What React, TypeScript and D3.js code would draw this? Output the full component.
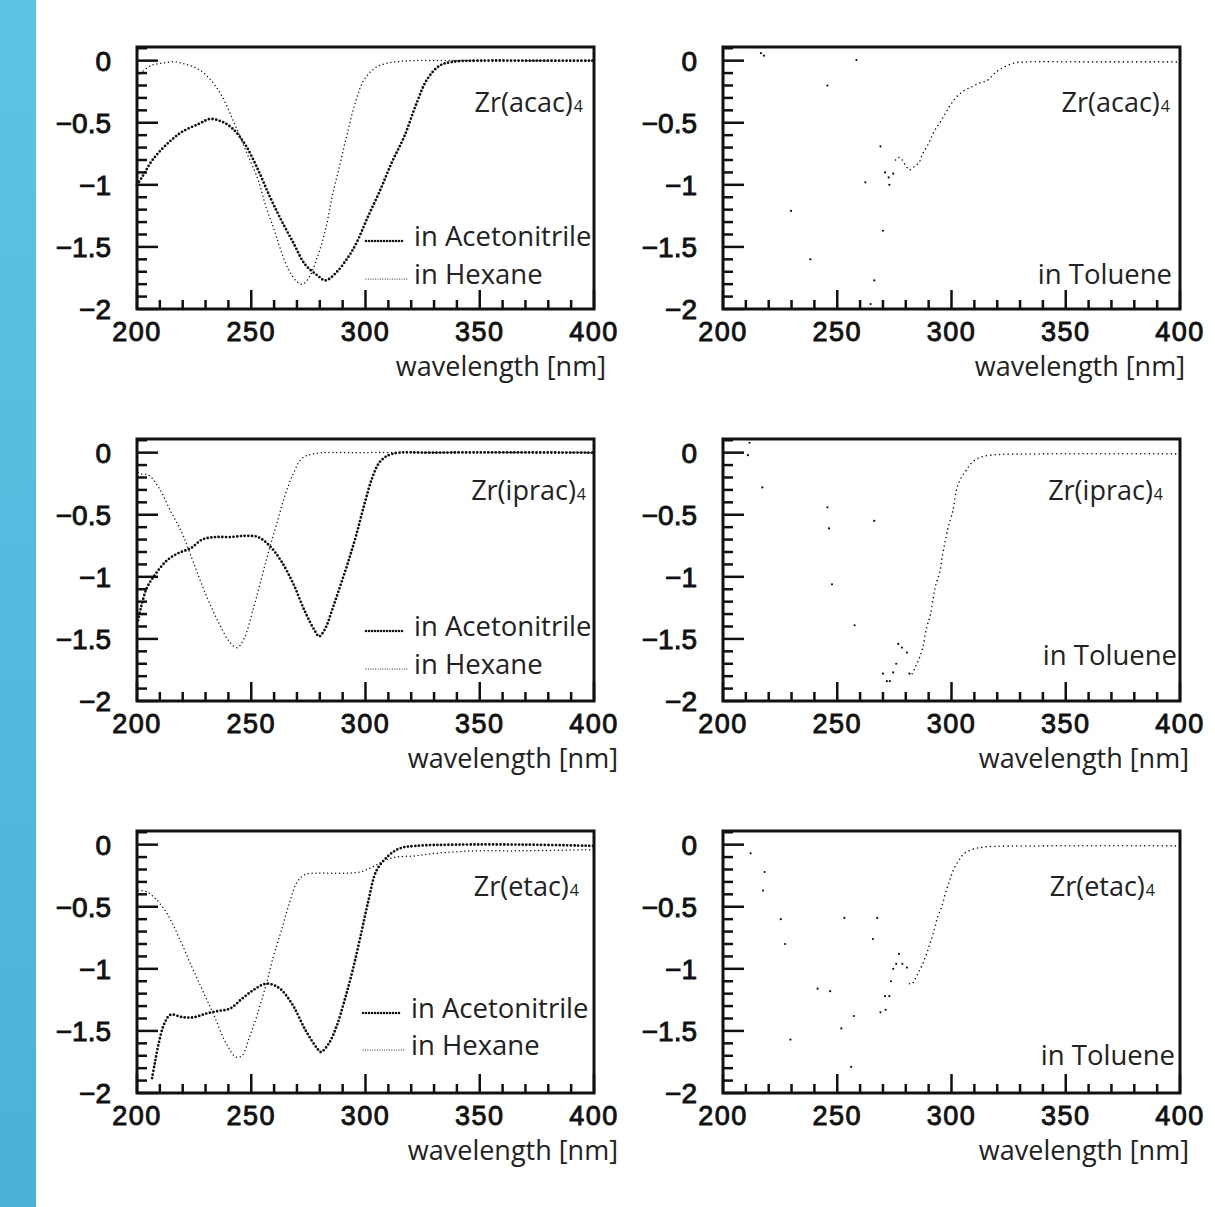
import React, { useEffect, useRef } from "react";
import * as d3 from "d3";

type Pt = [number, number];

// [wavelength nm, value]
const acacAcetonitrile: Pt[] = [
  [200, -1.0], [202.5, -0.93], [206, -0.82], [209.5, -0.74], [215, -0.64], [220, -0.57],
  [227, -0.51], [232, -0.47], [237, -0.49], [242, -0.55], [247.5, -0.68], [253, -0.88],
  [258, -1.09], [263, -1.28], [268.5, -1.47], [273.5, -1.64], [279, -1.73], [282.5, -1.77],
  [287.5, -1.7], [292.5, -1.58], [296, -1.47], [301, -1.26], [306.5, -1.04], [311.5, -0.82],
  [317, -0.61], [322, -0.36], [327, -0.15], [332.5, -0.04], [338, -0.01], [350, 0], [375, 0], [400, 0],
];
const acacHexane: Pt[] = [
  [200, -0.12], [201, -0.11], [206, -0.04], [211, -0.02], [216.5, -0.01], [221.5, -0.03],
  [227, -0.07], [232, -0.15], [237, -0.28], [242.5, -0.5], [247.5, -0.72], [253, -0.96],
  [256.5, -1.18], [260, -1.36], [263, -1.53], [266.5, -1.69], [270, -1.78], [272.5, -1.8],
  [275.5, -1.74], [279, -1.58], [282.5, -1.36], [285.5, -1.09], [289, -0.82], [292.5, -0.55],
  [296, -0.31], [299.5, -0.15], [305, -0.05], [313, -0.01], [322, 0], [360, 0], [400, 0],
];
const ipracAcetonitrile: Pt[] = [
  [200.5, -1.35], [201.7, -1.25], [204.3, -1.09], [208, -0.98], [213, -0.87], [218, -0.81],
  [223.5, -0.77], [228.5, -0.7], [234, -0.68], [240.5, -0.68], [247.5, -0.67], [253, -0.68],
  [258, -0.75], [263, -0.87], [268.5, -1.06], [273.5, -1.28], [278, -1.44], [279.7, -1.48],
  [282.3, -1.42], [285.7, -1.25], [289.2, -1.06], [292.6, -0.87], [296, -0.66], [299.6, -0.41],
  [303, -0.2], [306.5, -0.07], [311.7, -0.01], [330, 0], [400, 0],
];
const ipracHexane: Pt[] = [
  [200.5, -0.16], [201.7, -0.17], [205, -0.18], [209.5, -0.28], [214.7, -0.47], [220, -0.66],
  [225, -0.9], [230.3, -1.15], [235.5, -1.36], [240.7, -1.53], [243.8, -1.57], [246.8, -1.5],
  [251, -1.25], [254.5, -1.01], [258, -0.77], [261.5, -0.55], [265, -0.33], [268.4, -0.17],
  [272, -0.05], [277, -0.01], [300, 0], [400, 0],
];
const etacAcetonitrile: Pt[] = [
  [206.6, -1.88], [207.8, -1.76], [209.5, -1.6], [212, -1.44], [214.7, -1.37], [220, -1.39],
  [225, -1.39], [230.3, -1.36], [235.5, -1.34], [240.7, -1.32], [246, -1.24], [251, -1.17],
  [256.3, -1.12], [259.7, -1.13], [263.2, -1.17], [268.4, -1.3], [273.6, -1.49], [278.8, -1.64],
  [280.5, -1.67], [284, -1.6], [287.4, -1.46], [290.9, -1.25], [294.4, -1.01], [297.8, -0.74],
  [301.3, -0.45], [304.8, -0.21], [310, -0.09], [315, -0.03], [322, -0.01], [340, 0], [370, 0], [400, -0.01],
];
const etacHexane: Pt[] = [
  [200.5, -0.37], [204.3, -0.38], [207.8, -0.43], [213, -0.55], [218.2, -0.74], [223.4, -0.96],
  [228.6, -1.17], [233.8, -1.38], [239, -1.6], [243.3, -1.71], [245.9, -1.7], [249.4, -1.54],
  [252.8, -1.36], [256.3, -1.14], [259.7, -0.9], [263.2, -0.69], [266.7, -0.47], [270.1, -0.3],
  [273.6, -0.24], [278.8, -0.23], [285.7, -0.23], [292.6, -0.23], [297.8, -0.22], [303, -0.18],
  [308.2, -0.13], [313.4, -0.1], [322, -0.09], [330.7, -0.07], [348, -0.05], [365, -0.05], [400, -0.04],
];

// toluene: the connected part of the spectrum and the stray points below 280 nm
const acacToluene: Pt[] = [
  [275.5, -0.8], [276.7, -0.78], [278, -0.79], [279.1, -0.82], [280.5, -0.86], [281.6, -0.88],
  [283.3, -0.86], [285.8, -0.82], [287.4, -0.75], [289.9, -0.67], [292.4, -0.57], [294.9, -0.5],
  [297.4, -0.42], [299.8, -0.35], [302.3, -0.29], [305.6, -0.24], [308.9, -0.21], [312.3, -0.18],
  [315.6, -0.16], [318.9, -0.1], [322.2, -0.06], [327.2, -0.02], [333.8, -0.01], [360, -0.01], [400, -0.01],
];
const acacTolueneStray: Pt[] = [
  [216.6, 0.06], [217.9, 0.04], [229.8, -1.21], [238.2, -1.6], [245.7, -0.2], [258.4, 0.005],
  [262.3, -0.98], [264.6, -1.96], [266.2, -1.77], [268.9, -0.69], [270, -1.37], [270.9, -0.9],
  [272.5, -0.94], [272.8, -1.0], [274.5, -0.91],
];
const ipracToluene: Pt[] = [
  [282.8, -1.78], [284.1, -1.73], [285.8, -1.66], [287.4, -1.57], [289.1, -1.41], [290.7, -1.31],
  [292.1, -1.16], [293.2, -1.06], [294.9, -0.96], [296.1, -0.82], [297.4, -0.7], [298.7, -0.59],
  [300.3, -0.49], [301, -0.43], [302.3, -0.29], [304, -0.21], [306.5, -0.14], [308.9, -0.08],
  [312.3, -0.04], [317.2, -0.02], [340, -0.01], [400, -0.01],
];
const ipracTolueneStray: Pt[] = [
  [211.6, 0.08], [210.9, -0.02], [217.2, -0.28], [245.7, -0.44], [246.4, -0.61], [247.7, -1.06],
  [257.6, -1.39], [266.2, -0.55], [270, -1.78], [271.7, -1.84], [273, -1.84], [274.5, -1.77],
  [275.8, -1.7], [276.7, -1.54], [278.3, -1.57], [280.5, -1.61], [281.6, -1.78],
];
const etacToluene: Pt[] = [
  [281.6, -1.12], [282.8, -1.12], [284.1, -1.08], [285.8, -1.02], [287.4, -0.96], [289.1, -0.88],
  [290.7, -0.79], [292.4, -0.69], [294, -0.58], [295.7, -0.5], [297.4, -0.39], [299, -0.3],
  [300.7, -0.21], [303.1, -0.13], [305.6, -0.07], [308.9, -0.04], [313.9, -0.02], [340, -0.01], [400, -0.01],
];
const etacTolueneStray: Pt[] = [
  [212.1, -0.07], [217.5, -0.37], [218.2, -0.22], [225.3, -0.6], [227.2, -0.8], [229.5, -1.57],
  [241.4, -1.16], [246.9, -1.18], [251.8, -1.48], [253.1, -0.59], [256.1, -1.79], [257.3, -1.38],
  [265.6, -0.76], [267.5, -0.59], [268.9, -1.35], [270.9, -1.22], [271.2, -1.33], [272.8, -1.22],
  [273.5, -1.1], [274.5, -1.0], [275.8, -0.96], [277, -0.88], [278.5, -0.96], [280.5, -0.99],
];

const compounds = ["acac", "iprac", "etac"];
const yTicks = [0, -0.5, -1, -1.5, -2];
const xTicks = [200, 250, 300, 350, 400];
const legendLabels = ["in Acetonitrile", "in Hexane"];
const tolueneLabel = "in Toluene";
const xTitle = "wavelength [nm]";

const W = 1215;
const H = 1207;
const colLeft = [137, 723];
const frameW = 457;
const rowTop = [47, 439, 831];
const frameH = 262;

// per-panel text placement (frame-relative)
const titleDx = [[12, 5], [24, 9], [24, 9]];
const nameRight = [[-11, -10], [-8, -17], [-15, -25]];
const nameBaseline = [65, 61, 65];
const legendBase = [[199, 237], [197, 235], [187, 224]];
const tolueneRight = [-8, -3, -5];
const tolueneBase = [237, 226, 234];

const styles = {
  acn: { w: 2.8, dash: "0 3.7" },
  hex: { w: 1.5, dash: "0 3.9" },
  tol: { w: 1.6, dash: "0 4.4" },
};

const App = () => {
  const svgRef = useRef<SVGSVGElement>(null);

  useEffect(() => {
    const svg = d3.select(svgRef.current);
    svg.selectAll("*").remove();

    const defs = svg.append("defs");
    const grad = defs.append("linearGradient").attr("id", "bar").attr("x1", 0).attr("y1", 0).attr("x2", 0).attr("y2", 1);
    grad.append("stop").attr("offset", "0%").attr("stop-color", "#5cc4e4");
    grad.append("stop").attr("offset", "100%").attr("stop-color", "#4ab2d6");

    svg.append("rect").attr("width", W).attr("height", H).attr("fill", "#fff");
    svg.append("rect").attr("width", 36).attr("height", H).attr("fill", "url(#bar)");

    const series = [
      [acacAcetonitrile, acacHexane],
      [ipracAcetonitrile, ipracHexane],
      [etacAcetonitrile, etacHexane],
    ];
    const toluene = [acacToluene, ipracToluene, etacToluene];
    const stray = [acacTolueneStray, ipracTolueneStray, etacTolueneStray];

    const sansText = "'Open Sans', 'Noto Sans', sans-serif";
    const tickFont = "'Liberation Sans', Arial, sans-serif";

    compounds.forEach((name, row) => {
      [0, 1].forEach(col => {
        const x0 = colLeft[col];
        const y0 = rowTop[row];
        const x = d3.scaleLinear().domain([200, 400]).range([x0, x0 + frameW]);
        const y = d3.scaleLinear().domain([-2, 0.11]).range([y0 + frameH, y0]);
        const g = svg.append("g");

        const line = d3.line<Pt>()
          .x(d => x(d[0]))
          .y(d => y(d[1]))
          .curve(d3.curveCatmullRom.alpha(0.5));

        const drawCurve = (data: Pt[], st: { w: number; dash: string }) => {
          g.append("path")
            .attr("d", line(data))
            .attr("fill", "none")
            .attr("stroke", "#111")
            .attr("stroke-width", st.w)
            .attr("stroke-linecap", "round")
            .attr("stroke-dasharray", st.dash);
        };

        if (col === 0) {
          drawCurve(series[row][0], styles.acn);
          drawCurve(series[row][1], styles.hex);
        } else {
          drawCurve(toluene[row], styles.tol);
          g.selectAll("circle.stray")
            .data(stray[row])
            .join("circle")
            .attr("cx", d => x(d[0]))
            .attr("cy", d => y(d[1]))
            .attr("r", 1.1)
            .attr("fill", "#111");
        }

        // minor + major ticks
        d3.range(-20, 2).map(i => i / 10).forEach(v => {
          const major = Math.abs(v * 2 - Math.round(v * 2)) < 1e-6;
          g.append("line")
            .attr("x1", x0).attr("x2", x0 + (major ? 21 : 10))
            .attr("y1", y(v)).attr("y2", y(v))
            .attr("stroke", "#111").attr("stroke-width", 2.5);
        });
        d3.range(200, 401, 10).forEach(v => {
          const major = v % 50 === 0;
          g.append("line")
            .attr("x1", x(v)).attr("x2", x(v))
            .attr("y1", y0 + frameH).attr("y2", y0 + frameH - (major ? 19 : 9))
            .attr("stroke", "#111").attr("stroke-width", 2.5);
        });

        g.append("rect")
          .attr("x", x0).attr("y", y0)
          .attr("width", frameW).attr("height", frameH)
          .attr("fill", "none").attr("stroke", "#111").attr("stroke-width", 3);

        // tick labels
        yTicks.forEach(v => {
          g.append("text")
            .attr("x", x0 - 26)
            .attr("y", y(v) + 10)
            .attr("text-anchor", "end")
            .attr("font-family", tickFont)
            .attr("font-size", 28)
            .attr("fill", "#111")
            .attr("stroke", "#111").attr("stroke-width", 0.9)
            .text(v === 0 ? "0" : "\u2212" + String(Math.abs(v)));
        });
        xTicks.forEach(v => {
          g.append("text")
            .attr("x", x(v))
            .attr("y", y0 + frameH + 32)
            .attr("text-anchor", "middle")
            .attr("font-family", tickFont)
            .attr("font-size", 27)
            .attr("letter-spacing", 1.5)
            .attr("fill", "#111")
            .attr("stroke", "#111").attr("stroke-width", 0.9)
            .text(String(v));
        });

        g.append("text")
          .attr("x", x0 + frameW + titleDx[row][col])
          .attr("y", y0 + frameH + 67)
          .attr("text-anchor", "end")
          .attr("font-family", sansText)
          .attr("font-size", 27)
          .attr("fill", "#222")
          .text(xTitle);

        const nm = g.append("text")
          .attr("x", x0 + frameW + nameRight[row][col])
          .attr("y", y0 + nameBaseline[row])
          .attr("text-anchor", "end")
          .attr("font-family", sansText)
          .attr("font-size", 27)
          .attr("fill", "#222");
        nm.append("tspan").text(`Zr(${name})`);
        nm.append("tspan").attr("font-size", 16).attr("dx", 1).text("4");

        if (col === 0) {
          const tx = row === 2 ? 411 : 414;
          legendLabels.forEach((lab, i) => {
            const by = y0 + legendBase[row][i];
            const st = i === 0 ? { w: 2.6, dash: "0 3" } : { w: 1.2, dash: "0 2.4" };
            g.append("line")
              .attr("x1", tx - 48).attr("x2", tx - (i === 0 ? 11 : 6))
              .attr("y1", by - 5).attr("y2", by - 5)
              .attr("stroke", "#111")
              .attr("stroke-width", st.w)
              .attr("stroke-linecap", "round")
              .attr("stroke-dasharray", st.dash);
            g.append("text")
              .attr("x", tx)
              .attr("y", by)
              .attr("font-family", sansText)
              .attr("font-size", 27.5)
              .attr("fill", "#222")
              .text(lab);
          });
        } else {
          g.append("text")
            .attr("x", x0 + frameW + tolueneRight[row])
            .attr("y", y0 + tolueneBase[row])
            .attr("text-anchor", "end")
            .attr("font-family", sansText)
            .attr("font-size", 27.5)
            .attr("fill", "#222")
            .text(tolueneLabel);
        }
      });
    });
  }, []);

  return (
    <svg
      ref={svgRef}
      width={W}
      height={H}
      style={{ position: "absolute", left: 0, top: 0, display: "block" }}
    ></svg>
  );
};

export default App;
